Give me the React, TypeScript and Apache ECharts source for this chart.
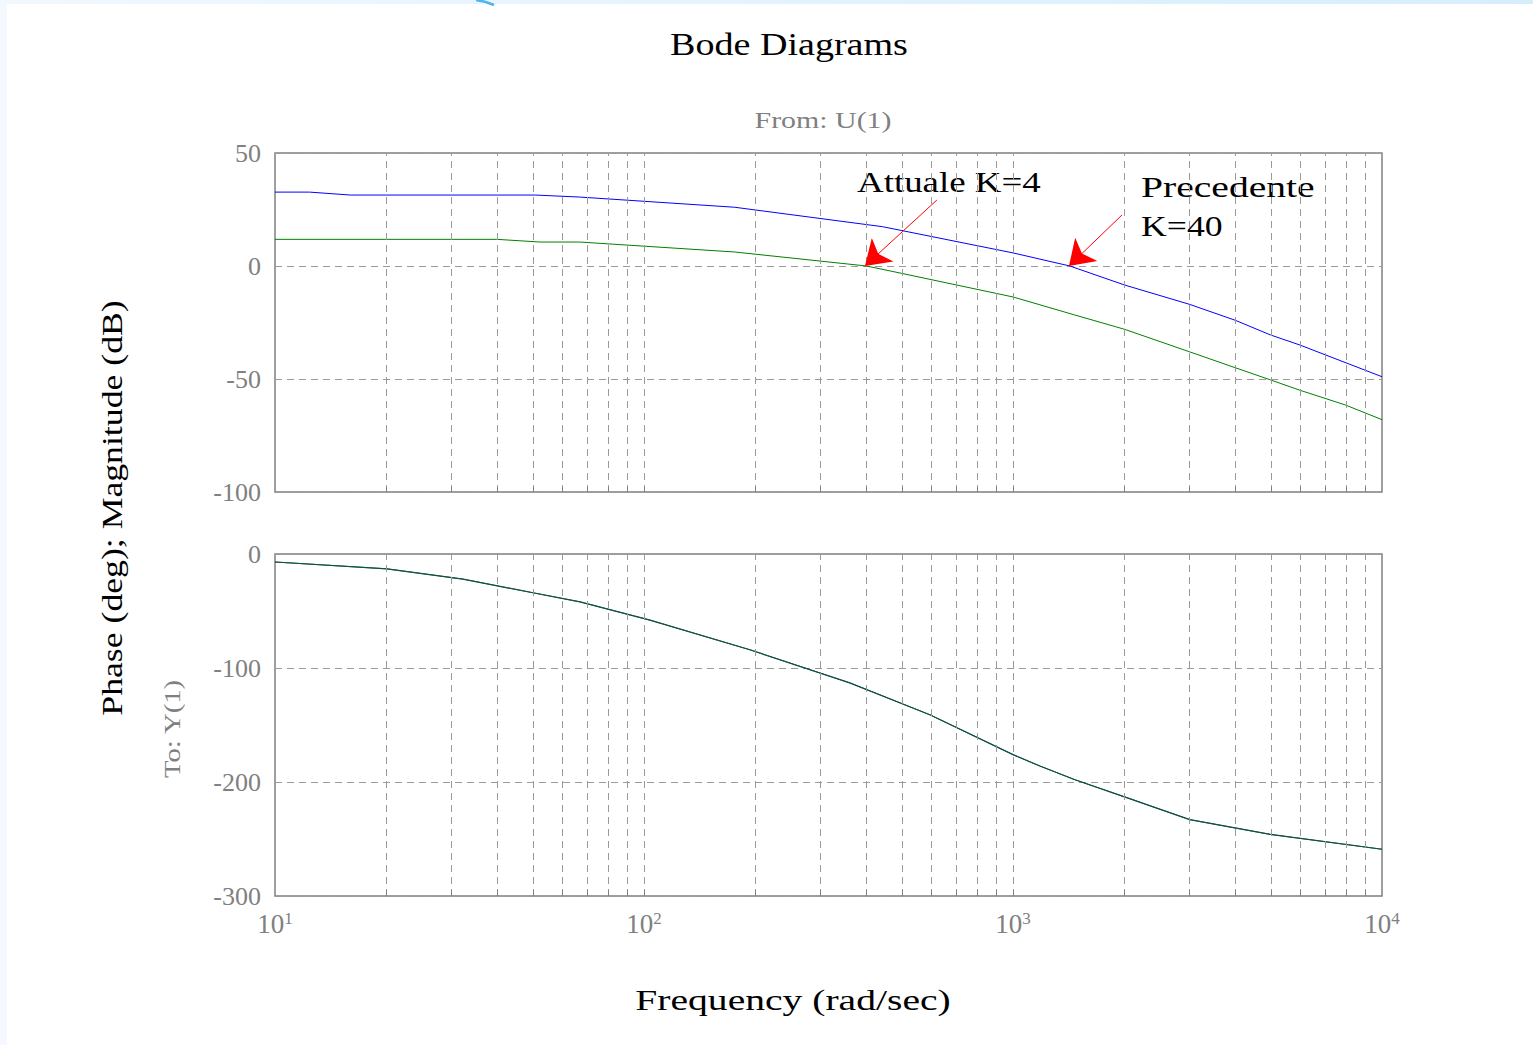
import React, { useEffect, useRef } from "react";
import * as echarts from "echarts";

// Magnitude, K = 40 (previous design)
const magFreqK40 = [10, 12.4, 16, 50.7, 67, 176, 443, 1000, 1426, 2005, 3013, 4000, 4985, 6000, 10000];
const magDbK40 = [32.7, 32.7, 31.4, 31.4, 30.5, 26, 17.4, 5.8, 0, -8.4, -17, -24, -30.5, -35, -49];

// Magnitude, K = 4 (current design)
const magFreqK4 = [10, 39.9, 52.3, 67, 176, 401, 494, 1000, 1472, 2005, 3013, 4000, 4985, 6000, 7960, 10000];
const magDbK4 = [11.8, 11.8, 10.6, 10.6, 6.2, 0, -3.1, -13.7, -21.7, -28, -38, -45, -50.4, -55, -61.5, -68];

// Phase (identical for both gains)
const phaseFreq = [10, 20.1, 32.3, 50, 67.1, 103.8, 193.6, 361, 595, 1000, 1183, 1472, 2005, 3013, 4985, 10000];
const phaseDeg = [-7, -13, -22, -34, -42, -58, -84, -113, -141, -176, -186, -198, -213, -233, -246, -259];

// Vertical grid positions (decade subdivisions)
const gridFreqs = [
  20, 30, 40, 50, 60, 70, 80, 90, 100,
  200, 300, 400, 500, 600, 700, 800, 900, 1000,
  2000, 3000, 4000, 5000, 6000, 7000, 8000, 9000,
];

// Annotation arrows: [tail freq, tail dB, tip freq, tip dB]
const arrowK4 = [622, 29.2, 397, 0];
const arrowK40 = [1975, 22.6, 1418, 0];

const FONT = '"Liberation Serif", "Times New Roman", serif';
const GRAY = "#808080";

const pairs = (xs: number[], ys: number[]) => xs.map((x, i) => [x, ys[i]]);

function gridHelper(xi: number, yMin: number, tickLen: number) {
  return {
    type: "line",
    xAxisIndex: xi,
    yAxisIndex: xi,
    data: [],
    silent: true,
    z: 1,
    markLine: {
      silent: true,
      symbol: ["none", "none"],
      label: { show: false },
      animation: false,
      data: [
        ...gridFreqs.map((f) => ({
          xAxis: f,
          lineStyle: { type: [7, 5], color: "#9a9a9a", width: 1 },
        })),
        ...gridFreqs.map((f) => [
          { coord: [f, yMin], lineStyle: { type: "solid", color: GRAY, width: 1 } },
          { coord: [f, yMin + tickLen] },
        ]),
      ],
    },
  };
}

function arrow(a: number[]) {
  return {
    silent: true,
    symbol: ["none", "arrow"],
    symbolSize: 24,
    label: { show: false },
    lineStyle: { type: "solid", color: "#ff0000", width: 1 },
    itemStyle: { color: "#ff0000" },
    animation: false,
    data: [[{ coord: [a[0], a[1]] }, { coord: [a[2], a[3]] }]],
  };
}

// Spaced-out text label (the printout stretches its type horizontally)
function label(
  text: string,
  x: number,
  y: number,
  size: number,
  stretch: number,
  opts: { color?: string; align?: string; rotate?: boolean } = {}
) {
  return {
    type: "text",
    x,
    y,
    rotation: opts.rotate ? Math.PI / 2 : 0,
    scaleX: stretch,
    silent: true,
    style: {
      text,
      fontFamily: FONT,
      fontSize: size,
      fill: opts.color || "#000",
      textAlign: opts.align || "left",
      textVerticalAlign: "middle",
    },
  };
}

export default function App() {
  const ref = useRef<HTMLDivElement>(null);

  useEffect(() => {
    const chart = echarts.init(ref.current!, null, { renderer: "svg" });

    const xAxisBase = {
      type: "log",
      logBase: 10,
      min: 10,
      max: 10000,
      axisLine: { show: false },
      axisTick: { show: false },
      splitLine: { show: false },
    };
    const yAxisBase = {
      type: "value",
      axisLine: { show: false },
      axisTick: { show: false },
      axisLabel: { color: GRAY, fontSize: 26, fontFamily: FONT, margin: 14 },
      splitLine: { lineStyle: { type: [7, 5], color: "#9a9a9a", width: 1 } },
    };

    chart.setOption({
      animation: false,
      backgroundColor: "#ffffff",
      grid: [
        { left: 275, top: 153, width: 1107, height: 339, show: true, borderColor: GRAY, borderWidth: 1.5, backgroundColor: "transparent" },
        { left: 275, top: 554, width: 1107, height: 342, show: true, borderColor: GRAY, borderWidth: 1.5, backgroundColor: "transparent" },
      ],
      xAxis: [
        { ...xAxisBase, gridIndex: 0, axisLabel: { show: false } },
        {
          ...xAxisBase,
          gridIndex: 1,
          axisLabel: {
            show: true,
            margin: 14,
            color: GRAY,
            fontFamily: FONT,
            formatter: (v: number) => `{b|10}{s|${Math.round(Math.log10(v))}}`,
            rich: {
              b: { fontSize: 27, fontFamily: FONT, color: GRAY, lineHeight: 28 },
              s: { fontSize: 17, fontFamily: FONT, color: GRAY, verticalAlign: "top", lineHeight: 17 },
            },
          },
        },
      ],
      yAxis: [
        { ...yAxisBase, gridIndex: 0, min: -100, max: 50, interval: 50 },
        { ...yAxisBase, gridIndex: 1, min: -300, max: 0, interval: 100 },
      ],
      series: [
        gridHelper(0, -100, 2.2),
        gridHelper(1, -300, 5.3),
        {
          name: "Precedente K=40",
          type: "line",
          xAxisIndex: 0,
          yAxisIndex: 0,
          data: pairs(magFreqK40, magDbK40),
          showSymbol: false,
          lineStyle: { color: "#0000ff", width: 1 },
          z: 3,
          markLine: arrow(arrowK40),
        },
        {
          name: "Attuale K=4",
          type: "line",
          xAxisIndex: 0,
          yAxisIndex: 0,
          data: pairs(magFreqK4, magDbK4),
          showSymbol: false,
          lineStyle: { color: "#008000", width: 1 },
          z: 3,
          markLine: arrow(arrowK4),
        },
        {
          name: "Fase K=40",
          type: "line",
          xAxisIndex: 1,
          yAxisIndex: 1,
          data: pairs(phaseFreq, phaseDeg),
          showSymbol: false,
          lineStyle: { color: "#1d3f6a", width: 1.2 },
          z: 3,
        },
        {
          name: "Fase K=4",
          type: "line",
          xAxisIndex: 1,
          yAxisIndex: 1,
          data: pairs(phaseFreq, phaseDeg),
          showSymbol: false,
          lineStyle: { color: "#0b5a2e", width: 1, opacity: 0.9 },
          z: 4,
        },
      ],
      graphic: [
        { type: "rect", left: 0, top: 0, shape: { width: 7, height: 1045 }, style: { fill: "#f4f9ff" }, silent: true },
        {
          type: "rect",
          left: 0,
          top: 0,
          shape: { width: 1533, height: 4 },
          style: {
            fill: new echarts.graphic.LinearGradient(0, 0, 1, 0, [
              { offset: 0, color: "#f1f8fe" },
              { offset: 1, color: "#d6eefc" },
            ]),
          },
          silent: true,
        },
        {
          type: "bezierCurve",
          shape: { x1: 476, y1: 0, x2: 494, y2: 5, cpx1: 485, cpy1: 1 },
          style: { stroke: "#4fb4ef", lineWidth: 2.5, fill: "none" },
          silent: true,
        },
        label("Bode Diagrams", 789, 45, 32, 1.19, { align: "center" }),
        label("From: U(1)", 823, 120, 23, 1.3, { align: "center", color: GRAY }),
        label("Attuale K=4", 857, 182, 30, 1.23),
        label("Precedente", 1141, 187, 30, 1.32),
        label("K=40", 1141, 226, 30, 1.19),
        label("Phase (deg); Magnitude (dB)", 112, 508, 30, 1.19, { align: "center", rotate: true }),
        label("To: Y(1)", 172, 729, 23, 1.25, { align: "center", color: GRAY, rotate: true }),
        label("Frequency (rad/sec)", 793, 1000, 30, 1.32, { align: "center" }),
      ],
    });

    return () => chart.dispose();
  }, []);

  return (
    <div
      ref={ref}
      style={{ position: "fixed", left: 0, top: 0, width: 1533, height: 1045, background: "#fff" }}
    />
  );
}
